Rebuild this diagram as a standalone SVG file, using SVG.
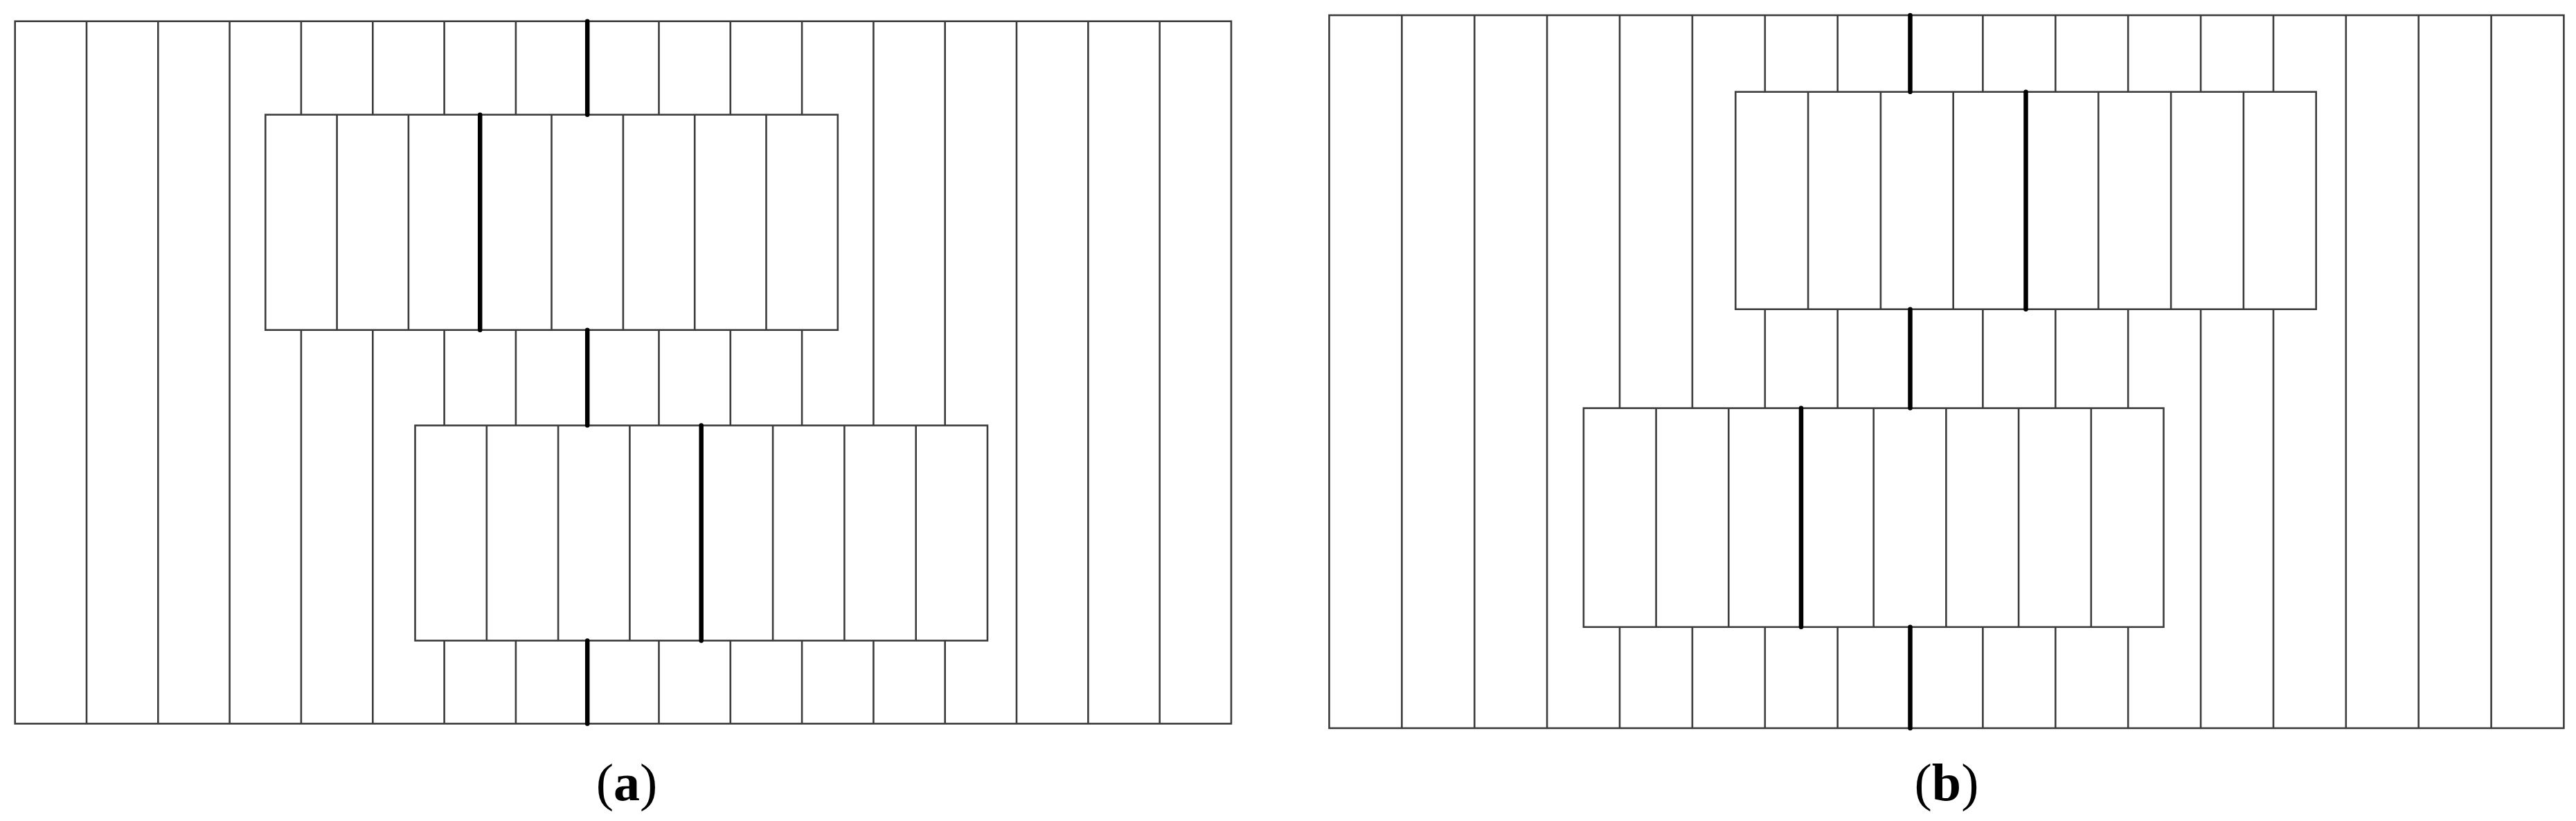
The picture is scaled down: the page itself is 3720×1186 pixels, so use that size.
<svg xmlns="http://www.w3.org/2000/svg" width="3720" height="1186" viewBox="0 0 3720 1186">
<style>
.frame{fill:#fff;stroke:#3c3c3c;stroke-width:2.6}
.thin{fill:none;stroke:#3c3c3c;stroke-width:2.6}
.thick{fill:none;stroke:#000;stroke-width:6.5;stroke-linecap:round}
.lbl{font-family:"Liberation Serif","Times New Roman",serif;font-size:76px;fill:#000}
</style>
<rect width="3720" height="1186" fill="#fff"/>

<!-- Panel (a) -->
<g id="a-outer">
<rect class="frame" x="21.7" y="30.7" width="1756.3" height="1014.7"/>
<path class="thin" d="M125,30.7V1045.4M228.3,30.7V1045.4M331.6,30.7V1045.4M434.9,30.7V1045.4M538.3,30.7V1045.4M641.6,30.7V1045.4M744.9,30.7V1045.4M848.2,30.7V1045.4M951.5,30.7V1045.4M1054.8,30.7V1045.4M1158.1,30.7V1045.4M1261.4,30.7V1045.4M1364.7,30.7V1045.4M1468,30.7V1045.4M1571.4,30.7V1045.4M1674.7,30.7V1045.4"/>
</g>
<g id="a-upper">
<rect class="frame" x="383.3" y="165.7" width="826.5" height="311"/>
<path class="thin" d="M486.6,165.7V476.7M589.9,165.7V476.7M796.5,165.7V476.7M899.9,165.7V476.7M1003.2,165.7V476.7M1106.5,165.7V476.7"/>
<line class="thick" x1="693.2" y1="165.7" x2="693.2" y2="476.7"/>
</g>
<g id="a-lower">
<rect class="frame" x="599.5" y="614.6" width="826.5" height="310.8"/>
<path class="thin" d="M702.8,614.6V925.4M806.1,614.6V925.4M909.4,614.6V925.4M1116.1,614.6V925.4M1219.4,614.6V925.4M1322.7,614.6V925.4"/>
<line class="thick" x1="1012.7" y1="614.6" x2="1012.7" y2="925.4"/>
</g>
<g id="a-thick-joints">
<path class="thick" d="M848.2,30.7V165.7M848.2,476.7V614.6M848.2,925.4V1045.4"/>
</g>
<text id="a-label" class="lbl" x="905" y="1156" text-anchor="middle">(<tspan font-weight="bold">a</tspan>)</text>

<!-- Panel (b) -->
<g id="b-outer">
<rect class="frame" x="1919.5" y="22" width="1782.9" height="1029.9"/>
<path class="thin" d="M2024.4,22V1051.9M2129.3,22V1051.9M2234.1,22V1051.9M2339,22V1051.9M2443.9,22V1051.9M2548.8,22V1051.9M2653.7,22V1051.9M2758.5,22V1051.9M2863.4,22V1051.9M2968.3,22V1051.9M3073.2,22V1051.9M3178.1,22V1051.9M3283,22V1051.9M3387.8,22V1051.9M3492.7,22V1051.9M3597.6,22V1051.9"/>
</g>
<g id="b-upper">
<rect class="frame" x="2506.3" y="132.7" width="838.4" height="314"/>
<path class="thin" d="M2611.1,132.7V446.7M2715.9,132.7V446.7M2820.7,132.7V446.7M3030.3,132.7V446.7M3135.1,132.7V446.7M3239.9,132.7V446.7"/>
<line class="thick" x1="2925.5" y1="132.7" x2="2925.5" y2="446.7"/>
</g>
<g id="b-lower">
<rect class="frame" x="2286.9" y="589.6" width="837.6" height="316.2"/>
<path class="thin" d="M2391.6,589.6V905.8M2496.3,589.6V905.8M2705.7,589.6V905.8M2810.4,589.6V905.8M2915.1,589.6V905.8M3019.8,589.6V905.8"/>
<line class="thick" x1="2601" y1="589.6" x2="2601" y2="905.8"/>
</g>
<g id="b-thick-joints">
<path class="thick" d="M2758.5,22V132.7M2758.5,446.7V589.6M2758.5,905.8V1051.9"/>
</g>
<text id="b-label" class="lbl" x="2811" y="1156" text-anchor="middle">(<tspan font-weight="bold">b</tspan>)</text>
</svg>
